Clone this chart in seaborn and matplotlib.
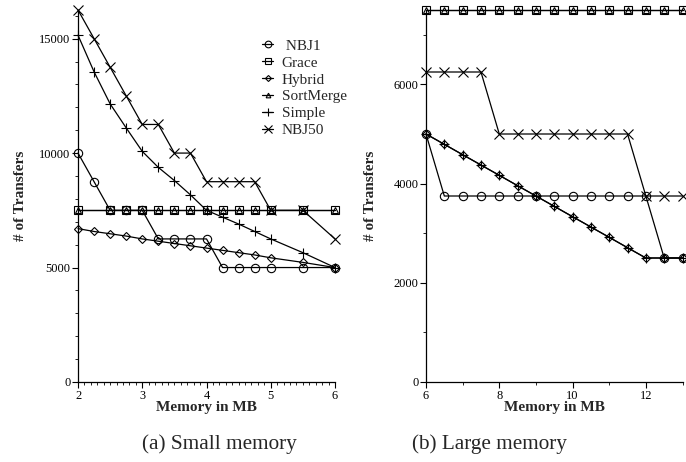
import matplotlib
matplotlib.use("Agg")
import matplotlib.pyplot as plt
import seaborn as sns
from matplotlib.ticker import MultipleLocator

# ---------------- data ----------------
series_names = ["NBJ1", "Grace", "Hybrid", "SortMerge", "Simple", "NBJ50"]

# (a) small memory
x_small = [2, 2.25, 2.5, 2.75, 3, 3.25, 3.5, 3.75, 4, 4.25, 4.5, 4.75, 5, 5.5, 6]
x_small_grace = [2, 2.5, 2.75, 3, 3.25, 3.5, 3.75, 4, 4.25, 4.5, 4.75, 5, 5.5, 6]
nbj1_small = [10000, 8750, 7500, 7500, 7500, 6250, 6250, 6250, 6250, 5000, 5000, 5000, 5000, 5000, 5000]
grace_small = [7500] * 14
hybrid_small = [6700, 6575, 6475, 6375, 6250, 6150, 6050, 5950, 5850, 5750, 5650, 5550, 5425, 5225, 5000]
sortmerge_small = [7500] * 14
simple_small = [15150, 13550, 12150, 11100, 10075, 9375, 8800, 8175, 7500, 7200, 6900, 6575, 6250, 5650, 5000]
nbj50_small = [16250, 15000, 13750, 12500, 11250, 11250, 10000, 10000, 8750, 8750, 8750, 8750, 7500, 7500, 6250]

# (b) large memory
x_large = [6, 6.5, 7, 7.5, 8, 8.5, 9, 9.5, 10, 10.5, 11, 11.5, 12, 12.5, 13]
nbj1_large = [5000, 3750, 3750, 3750, 3750, 3750, 3750, 3750, 3750, 3750, 3750, 3750, 3750, 2500, 2500]
grace_large = [7500] * 15
hybrid_large = [5000, 4792, 4583, 4375, 4167, 3958, 3750, 3542, 3333, 3125, 2917, 2708, 2500, 2500, 2500]
sortmerge_large = [7500] * 15
simple_large = [5000, 4792, 4583, 4375, 4167, 3958, 3750, 3542, 3333, 3125, 2917, 2708, 2500, 2500, 2500]
nbj50_large = [6250, 6250, 6250, 6250, 5000, 5000, 5000, 5000, 5000, 5000, 5000, 5000, 3750, 3750, 3750]

small_data = {
    "NBJ1": (x_small, nbj1_small),
    "Grace": (x_small_grace, grace_small),
    "Hybrid": (x_small, hybrid_small),
    "SortMerge": (x_small_grace, sortmerge_small),
    "Simple": (x_small, simple_small),
    "NBJ50": (x_small, nbj50_small),
}
large_data = {
    "NBJ1": (x_large, nbj1_large),
    "Grace": (x_large, grace_large),
    "Hybrid": (x_large, hybrid_large),
    "SortMerge": (x_large, sortmerge_large),
    "Simple": (x_large, simple_large),
    "NBJ50": (x_large, nbj50_large),
}
legend_labels = {"NBJ1": " NBJ1", "Grace": "Grace", "Hybrid": "Hybrid",
                 "SortMerge": "SortMerge", "Simple": "Simple", "NBJ50": "NBJ50"}

# ---------------- style ----------------
sns.set_style("ticks")
plt.rcParams["font.family"] = ["Liberation Serif", "DejaVu Serif"]
plt.rcParams["axes.linewidth"] = 0.9

marker_style = {
    "NBJ1": ("o", 6.0),
    "Grace": ("s", 5.5),
    "Hybrid": ("D", 3.8),
    "SortMerge": ("^", 4.2),
    "Simple": ("+", 7.0),
    "NBJ50": ("x", 6.5),
}

fig = plt.figure(figsize=(6.86, 4.62), dpi=100)
ax1 = fig.add_axes([78 / 686, 80 / 462, 257 / 686, 372 / 462])
ax2 = fig.add_axes([426 / 686, 80 / 462, 256.5 / 686, 372 / 462])


def draw(ax, data, with_labels):
    for name in series_names:
        xs, ys = data[name]
        m, ms = marker_style[name]
        sns.lineplot(x=xs, y=ys, ax=ax, color="black", marker=m, markersize=ms,
                     markerfacecolor="none", markeredgecolor="black",
                     markeredgewidth=0.8, linewidth=0.9, estimator=None,
                     sort=False, clip_on=False,
                     label=legend_labels[name] if with_labels else None)
    if ax.get_legend() is not None:
        ax.get_legend().remove()


draw(ax1, small_data, True)
draw(ax2, large_data, False)

for ax in (ax1, ax2):
    sns.despine(ax=ax)
    ax.tick_params(which="major", direction="out", length=4, width=0.8,
                   labelsize=8.9, pad=1.5, color="black", labelcolor="black")
    ax.tick_params(which="minor", direction="out", length=2, width=0.6, color="black")
    ax.set_xlabel("Memory in MB", fontsize=11, fontweight="bold")
    ax.set_ylabel("# of Transfers", fontsize=11, fontweight="bold")
    for s in ("left", "bottom"):
        ax.spines[s].set_color("black")

ax1.set_xlim(2, 6)
ax1.set_ylim(0, 16250)
ax1.xaxis.set_major_locator(MultipleLocator(1))
ax1.xaxis.set_minor_locator(MultipleLocator(0.1))
ax1.yaxis.set_major_locator(MultipleLocator(5000))
ax1.yaxis.set_minor_locator(MultipleLocator(1000))

ax2.set_xlim(6, 13)
ax2.set_ylim(0, 7500)
ax2.xaxis.set_major_locator(MultipleLocator(2))
ax2.xaxis.set_minor_locator(MultipleLocator(1))
ax2.yaxis.set_major_locator(MultipleLocator(2000))
ax2.yaxis.set_minor_locator(MultipleLocator(1000))

ax1.xaxis.set_label_coords(0.5, -0.052)
ax2.xaxis.set_label_coords(0.5, -0.052)
ax1.yaxis.set_label_coords(-0.20, 0.5)
ax2.yaxis.set_label_coords(-0.19, 0.5)

leg = ax1.legend(loc="upper left", bbox_to_anchor=(0.716, 0.922), frameon=False,
                 fontsize=11, handlelength=0.75, handletextpad=0.55,
                 labelspacing=0.21, borderpad=0, borderaxespad=0, markerscale=0.8)

fig.text(219 / 686, 1 - 444 / 462, "(a) Small memory", ha="center", va="center", fontsize=15.3)
fig.text(489 / 686, 1 - 444 / 462, "(b) Large memory", ha="center", va="center", fontsize=15.3)

fig.savefig("out.png", dpi=100)
